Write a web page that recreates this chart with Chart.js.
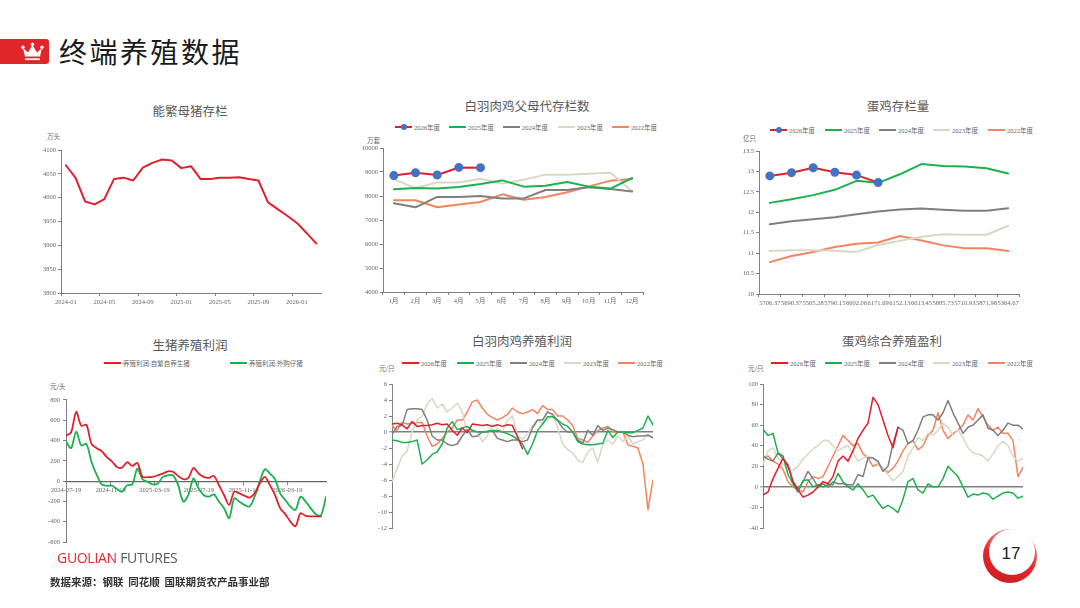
<!DOCTYPE html>
<html lang="zh-CN">
<head>
<meta charset="utf-8">
<title>终端养殖数据</title>
<script src="https://cdn.jsdelivr.net/npm/chart.js@4.4.1/dist/chart.umd.min.js"></script>
<style>
  html, body { margin: 0; padding: 0; background: #fff; }
  body { width: 1080px; height: 608px; position: relative; overflow: hidden;
         font-family: "Noto Sans CJK SC", "Noto Sans", sans-serif; }
  .abs { position: absolute; }
  .chart-box { position: absolute; }
  .ctitle { position: absolute; transform: translate(-50%, -50%); font-size: 12.5px; color: #595959; white-space: nowrap; }
  .unit { position: absolute; transform: translateY(-50%); font-family: "Noto Sans CJK SC", serif; font-size: 6.5px; color: #666; white-space: nowrap; }
  .leg-line { position: absolute; height: 2px; }
  .leg-dot { position: absolute; width: 6px; height: 6px; border-radius: 50%; background: #4472C4; }
  .leg-text { position: absolute; transform: translateY(-50%); font-family: "Liberation Serif", "Noto Sans CJK SC", serif; font-size: 6.5px; color: #666; white-space: nowrap; }
  #head-box { left: 0; top: 39px; width: 49px; height: 25px; background: #E0262B; border-radius: 0 3px 3px 0; }
  #head-title { left: 59px; top: 51px; transform: translateY(-50%); font-size: 28px; letter-spacing: 2.5px; color: #1a1a1a; }
  #brand { left: 57px; top: 557px; transform: translateY(-50%); font-family: "Open Sans", "Noto Sans", sans-serif; font-size: 14px; letter-spacing: -0.3px; }
  #source { left: 50px; top: 581px; transform: translateY(-50%); font-size: 10.5px; font-weight: bold; color: #333; white-space: nowrap; }
  #page-ring { left: 983px; top: 529px; width: 54px; height: 54px; border-radius: 50%; background: linear-gradient(200deg, #f7c5c5 0%, #e0262b 55%, #c81e23 100%); }
  #page-hole { left: 989px; top: 529px; width: 46px; height: 46px; border-radius: 50%; background: #fff; }
  #page-num { left: 1011px; top: 554px; transform: translate(-50%, -50%); font-family: "Liberation Sans", Arial, sans-serif; font-size: 17px; color: #222; }
</style>
</head>
<body>
<div id="head-box" class="abs"></div>
<svg class="abs" style="left:21px;top:42px" width="23" height="20" viewBox="0 0 23 20">
  <path d="M2 6 L7 10.5 L11.5 3 L16 10.5 L21 6 L19 14.5 L4 14.5 Z" fill="#fff"/>
  <circle cx="2" cy="5.2" r="1.7" fill="#fff"/>
  <circle cx="11.5" cy="2.2" r="1.7" fill="#fff"/>
  <circle cx="21" cy="5.2" r="1.7" fill="#fff"/>
  <rect x="4" y="16.3" width="15" height="1.8" fill="#fff"/>
</svg>
<div id="head-title" class="abs">终端养殖数据</div>

<div class="ctitle" style="left:190px;top:110px">能繁母猪存栏</div>
<div class="ctitle" style="left:527px;top:105px">白羽肉鸡父母代存栏数</div>
<div class="ctitle" style="left:898px;top:105px">蛋鸡存栏量</div>
<div class="ctitle" style="left:190px;top:344px">生猪养殖利润</div>
<div class="ctitle" style="left:522px;top:340px">白羽肉鸡养殖利润</div>
<div class="ctitle" style="left:892px;top:340px">蛋鸡综合养殖盈利</div>

<div class="unit" style="left:47px;top:136px">万头</div>
<div class="unit" style="left:367px;top:140px">万套</div>
<div class="unit" style="left:743px;top:138px">亿只</div>
<div class="unit" style="left:50px;top:386px">元/头</div>
<div class="unit" style="left:379px;top:368px">元/只</div>
<div class="unit" style="left:748px;top:368px">元/只</div>

<div class="chart-box" id="box-sow"><canvas id="c-sow"></canvas></div>
<div class="chart-box" id="box-broiler"><canvas id="c-broiler"></canvas></div>
<div class="chart-box" id="box-layer"><canvas id="c-layer"></canvas></div>
<div class="chart-box" id="box-hog"><canvas id="c-hog"></canvas></div>
<div class="chart-box" id="box-bprofit"><canvas id="c-bprofit"></canvas></div>
<div class="chart-box" id="box-eprofit"><canvas id="c-eprofit"></canvas></div>

<div id="brand" class="abs"><span style="color:#E8262D">GUOLIAN</span> <span style="color:#595959">FUTURES</span></div>
<div id="source" class="abs">数据来源：钢联&nbsp;&nbsp;同花顺&nbsp;&nbsp;国联期货农产品事业部</div>
<div id="page-ring" class="abs"></div>
<div id="page-hole" class="abs"></div>
<div id="page-num" class="abs">17</div>

<script>
// ---- data ----
// 能繁母猪存栏 (万头), monthly 2024-01 .. 2026-03
const sowMonths = ['2024-01','2024-02','2024-03','2024-04','2024-05','2024-06','2024-07','2024-08','2024-09',
  '2024-10','2024-11','2024-12','2025-01','2025-02','2025-03','2025-04','2025-05','2025-06','2025-07',
  '2025-08','2025-09','2025-10','2025-11','2025-12','2026-01','2026-02','2026-03'];
const sowStock = [4068,4042,3992,3986,3997,4039,4042,4036,4063,4073,4080,4078,4062,4066,4039,4039,4042,
  4042,4043,4039,4036,3990,3976,3962,3947,3926,3904];

// 白羽肉鸡父母代存栏数 (万套)
const monthNames = ['1月','2月','3月','4月','5月','6月','7月','8月','9月','10月','11月','12月'];
const broiler2026 = [8850,8970,8875,9190,9180];
const broiler2025 = [8280,8330,8310,8375,8500,8650,8390,8430,8585,8390,8310,8750];
const broiler2024 = [7700,7530,7960,7960,8000,7900,7900,8250,8250,8360,8290,8190];
const broiler2023 = [8700,8330,8560,8560,8720,8515,8680,8890,8890,8930,8970,8200];
const broiler2022 = [7820,7820,7530,7650,7750,8070,7840,7960,8160,8400,8640,8710];

// 蛋鸡存栏量 (亿只)
const layerAxisLabels = ['5706.37','5690.37','5505.28','5790.15','6602.06','6171.69','6152.13','6013.45',
  '5885.73','5710.93','5871.98','5364.67'];
const layer2026 = [12.89,12.97,13.09,12.98,12.91,12.73];
const layer2025 = [12.23,12.32,12.42,12.55,12.77,12.72,12.93,13.18,13.13,13.12,13.08,12.95];
const layer2024 = [11.71,11.78,11.83,11.88,11.95,12.02,12.07,12.09,12.06,12.04,12.04,12.10];
const layer2023 = [11.05,11.07,11.07,11.06,11.03,11.20,11.30,11.40,11.46,11.45,11.45,11.67];
const layer2022 = [10.78,10.93,11.03,11.15,11.23,11.26,11.42,11.31,11.19,11.12,11.12,11.05];

// 生猪养殖利润 (元/头), one reading every 14 days from 2024-07-19
const hogTickLabels = ['2024-07-19','2024-11-19','2025-03-19','2025-07-19','2025-11-19','2026-03-19'];
const hogTickDays = [0,123,243,365,488,608];
const hogSelfBred = [448,480,682,545,555,367,325,296,237,195,140,133,188,150,179,42,39,42,58,75,97,91,52,
  19,32,130,75,42,32,52,-39,-136,-234,-104,-120,-143,-162,-120,-23,42,-39,-136,-266,-325,-396,-445,-315,
  -341,-347,-347,-347];
const hogBought = [390,325,487,351,367,188,65,-32,-45,-45,-78,-104,-39,-32,123,19,-6,-32,-23,42,58,58,-39,
  -201,-136,26,-71,-136,-153,-130,-201,-266,-364,-169,-201,-234,-250,-153,-6,117,75,19,-120,-185,-250,
  -283,-153,-201,-266,-325,-338,-153];

// 年度对比的日期刻度 (every 30 days from 01-01); readings every 7 days
const seasonTickLabels = ['01-01','01-31','03-01','03-31','04-30','05-30','06-29','07-29','08-28','09-27','10-27','11-26','12-26'];
const seasonTickDays = [0,30,60,90,120,150,180,210,240,270,300,330,360];

// 白羽肉鸡养殖利润 (元/只)
const bp2026 = [1.0,1.1,0.9,0.4,1.3,0.7,0.8,0.8,0.9,1.1,0.9,1.0,0.2,-0.4,0.5,-0.1,1.0,0.9,0.8,0.9,0.7,0.9,
  0.7,0.9,0.8,-0.6,-2.1];
const bp2025 = [-1.0,-1.1,-1.3,-1.3,-1.2,-1.0,-4.0,-3.5,-2.8,-2.5,-1.5,0.5,1.3,0.3,0.5,0.7,0.2,0,0,0.1,0.2,
  0.2,0,-0.2,-0.5,-0.9,-1.5,-2.8,-1.5,0.2,1.0,1.9,1.9,1.5,1.0,0.7,0,-1.2,-1.5,-1.6,-1.6,-1.5,-1.4,0.2,-0.7,
  0,0,-0.1,-0.1,0.2,0.5,2.0,0.9];
const bp2024 = [-0.3,0.7,0.8,2.8,2.9,2.9,2.8,1.5,-0.5,-1.0,-1.0,-1.5,-1.7,-1.5,-0.5,0.3,-0.6,-0.5,0,0,0.2,
  -0.8,-1.0,-1.2,-1.0,-1.0,-1.2,-1.0,0.5,1.5,1.5,2.5,2.2,1.4,0.5,0,0,-1.0,-1.4,0.2,-0.4,0.8,0.2,0.5,0.3,0,0,
  -0.4,-0.6,-0.5,-0.5,-0.4,-0.7];
const bp2023 = [-6.2,-4.6,-3.0,-2.4,0,1.5,2.0,3.5,4.2,3.0,3.5,2.5,3.0,3.6,2.5,0,0.3,0,-1.2,-0.5,1.0,0.5,0,
  1.5,2.0,-0.5,-0.9,-0.2,0.8,1.5,1.0,1.5,2.3,0.5,-1.5,-2.2,-2.6,-3.5,-3.8,-2.5,-2.0,-3.8,-1.5,-1.0,-1.5,
  -0.5,-1.2,-0.5,-1.5,-1.2,-1.0,-0.3,-0.8];
const bp2022 = [0.8,0.2,1.2,1.0,1.1,1.2,1.2,-0.5,-1.8,-1.5,-0.8,0,0.5,1.5,1.5,2.5,3.8,4.0,3.0,2.2,1.8,1.5,
  1.8,2.2,3.0,2.5,2.3,2.5,2.8,2.3,3.3,2.8,2.8,2.0,2.0,1.5,0.8,-0.8,-1.0,-1.3,-0.5,0.2,0.5,0.7,0,0,0,-1.6,
  -1.8,-2.0,-4.0,-9.7,-6.0];

// 蛋鸡综合养殖盈利 (元/只)
const ep2026 = [-8,-5,8,18,28,20,5,-3,-10,-8,-5,0,5,3,10,25,30,25,35,47,55,62,87,80,65,50,38,58];
const ep2025 = [56,50,52,33,30,12,3,-5,6,7,0,2,0,2,2,13,5,0,-3,3,-3,-10,-8,-15,-21,-18,-21,-25,-12,5,8,-3,
  -6,3,0,0,8,20,15,10,0,-10,-7,-8,-6,-7,-12,-9,-6,-5,-6,-11,-9];
const ep2024 = [30,27,25,33,27,22,5,-2,5,15,8,0,3,0,5,3,3,2,2,12,10,28,28,25,15,20,42,58,55,42,45,55,68,70,
  70,65,72,84,72,62,52,58,60,65,70,57,55,50,55,62,60,60,56];
const ep2023 = [22,35,38,28,22,18,16,20,27,32,37,40,45,45,40,35,38,40,33,25,28,30,28,22,18,12,6,10,15,30,38,
  48,45,52,50,55,62,58,50,55,48,38,33,32,30,25,32,40,44,40,30,25,28];
const ep2022 = [28,30,25,22,17,5,0,-3,-5,5,10,8,10,20,30,40,50,45,40,42,32,28,20,22,18,14,18,25,35,42,45,36,
  40,50,55,72,55,47,52,55,60,70,65,76,68,60,55,58,52,52,45,10,19];

// ---- styles ----
const RED = '#E0212B', GREEN = '#1DB04F', GRAY = '#7F7F7F', BEIGE = '#D8D8C6', ORANGE = '#F4845F', BLUE = '#4472C4';
const AXIS = '#808080';
const TEXT = '#666';
const TICK_FONT = { family: '"Liberation Serif", "DejaVu Serif", serif', size: 6.5 };
const CLEAR = 'rgba(0,0,0,0)';

// put a canvas so that its chart area lands on plot = [left, top, right, bottom]; m = room [L, T, R, B]
function frame(id, plot, m) {
  const box = document.getElementById('box-' + id);
  const w = plot[2] - plot[0] + m[0] + m[2];
  const h = plot[3] - plot[1] + m[1] + m[3];
  box.style.left = (plot[0] - m[0]) + 'px';
  box.style.top = (plot[1] - m[1]) + 'px';
  box.style.width = w + 'px';
  box.style.height = h + 'px';
  const c = document.getElementById('c-' + id);
  c.style.width = w + 'px';
  c.style.height = h + 'px';
  c.width = w;
  c.height = h;
  return c;
}

function baseOptions(m, bottomPad) {
  return {
    responsive: false,
    animation: false,
    layout: { padding: { top: m[1], right: m[2], bottom: bottomPad || 0, left: 0 } },
    plugins: { legend: { display: false }, tooltip: { enabled: false } },
    elements: { line: { borderJoinStyle: 'round', borderCapStyle: 'round' } }
  };
}

function yAxis(m, min, max, step, grid) {
  return {
    min: min, max: max,
    afterFit: s => { s.width = m[0]; },
    ticks: { stepSize: step, font: TICK_FONT, color: TEXT, padding: 2, callback: v => String(v) },
    grid: Object.assign({ drawOnChartArea: false, tickLength: 3, color: AXIS }, grid || {}),
    border: { color: AXIS, width: 1 }
  };
}

function line(label, data, color, width, extra) {
  return Object.assign({
    label: label, data: data, borderColor: color, backgroundColor: color,
    borderWidth: width, pointRadius: 0, tension: 0, fill: false
  }, extra || {});
}

function addLegend(y, items) {
  items.forEach(item => {
    const [x, text, color, marker] = item;
    const ln = document.createElement('div');
    ln.className = 'leg-line';
    ln.style.left = x + 'px';
    ln.style.top = (y - 1) + 'px';
    ln.style.width = '17px';
    ln.style.background = color;
    document.body.appendChild(ln);
    if (marker) {
      const dot = document.createElement('div');
      dot.className = 'leg-dot';
      dot.style.left = (x + 5.5) + 'px';
      dot.style.top = (y - 3) + 'px';
      document.body.appendChild(dot);
    }
    const t = document.createElement('div');
    t.className = 'leg-text';
    t.textContent = text;
    t.style.left = (x + 19) + 'px';
    t.style.top = y + 'px';
    document.body.appendChild(t);
  });
}

const seasonDays = bp2025.map((v, i) => i * 7);
const hogDays = hogBought.map((v, i) => i * 14);

// ---- 能繁母猪存栏 ----
(function () {
  const m = [31, 10, 8, 16];
  const c = frame('sow', [61, 150, 321, 293], m);
  const opts = baseOptions(m);
  opts.scales = {
    x: {
      type: 'category', offset: true,
      afterFit: s => { s.height = m[3]; },
      ticks: { autoSkip: false, maxRotation: 0, minRotation: 0, font: TICK_FONT, color: TEXT, padding: 2,
        callback: (v, i) => (i % 4 === 0 ? sowMonths[i] : '') },
      grid: { offset: true, drawOnChartArea: false, tickLength: 3,
        color: ctx => (ctx.index !== undefined && ctx.index % 4 === 0 ? AXIS : CLEAR) },
      border: { color: AXIS, width: 1 }
    },
    y: yAxis(m, 3800, 4100, 50)
  };
  new Chart(c, { type: 'line', data: { labels: sowMonths, datasets: [line('能繁母猪存栏', sowStock, RED, 2)] }, options: opts });
})();

// ---- 白羽肉鸡父母代存栏数 ----
(function () {
  const m = [26, 6, 6, 14];
  const c = frame('broiler', [383, 148, 643, 292], m);
  const opts = baseOptions(m);
  opts.scales = {
    x: {
      type: 'category', offset: true,
      afterFit: s => { s.height = m[3]; },
      ticks: { autoSkip: false, maxRotation: 0, minRotation: 0, font: TICK_FONT, color: TEXT, padding: 2 },
      grid: { offset: true, drawOnChartArea: false, tickLength: 3, color: AXIS },
      border: { color: AXIS, width: 1 }
    },
    y: yAxis(m, 4000, 10000, 1000)
  };
  new Chart(c, {
    type: 'line',
    data: {
      labels: monthNames,
      datasets: [
        line('2026年度', broiler2026, RED, 2, { pointRadius: 3.5, pointBackgroundColor: BLUE, pointBorderColor: BLUE }),
        line('2025年度', broiler2025, GREEN, 2),
        line('2024年度', broiler2024, GRAY, 2),
        line('2023年度', broiler2023, BEIGE, 2),
        line('2022年度', broiler2022, ORANGE, 2)
      ]
    },
    options: opts
  });
  addLegend(127, [[395, '2026年度', RED, true], [449, '2025年度', GREEN], [503, '2024年度', GRAY],
    [558, '2023年度', BEIGE], [612, '2022年度', ORANGE]]);
})();

// ---- 蛋鸡存栏量 ----
(function () {
  const m = [22, 6, 14, 14];
  const c = frame('layer', [759, 151, 1019, 294], m);
  const opts = baseOptions(m);
  opts.scales = {
    x: {
      type: 'category', offset: true,
      afterFit: s => { s.height = m[3]; },
      ticks: { autoSkip: false, maxRotation: 0, minRotation: 0, font: TICK_FONT, color: TEXT, padding: 2 },
      grid: { offset: true, drawOnChartArea: false, tickLength: 3, color: AXIS },
      border: { color: AXIS, width: 1 }
    },
    y: yAxis(m, 10, 13.5, 0.5)
  };
  new Chart(c, {
    type: 'line',
    data: {
      labels: layerAxisLabels,
      datasets: [
        line('2026年度', layer2026, RED, 2, { pointRadius: 3.5, pointBackgroundColor: BLUE, pointBorderColor: BLUE }),
        line('2025年度', layer2025, GREEN, 2),
        line('2024年度', layer2024, GRAY, 2),
        line('2023年度', layer2023, BEIGE, 2),
        line('2022年度', layer2022, ORANGE, 2)
      ]
    },
    options: opts
  });
  addLegend(130, [[770, '2026年度', RED, true], [825, '2025年度', GREEN], [879, '2024年度', GRAY],
    [933, '2023年度', BEIGE], [988, '2022年度', ORANGE]]);
})();

// ---- 生猪养殖利润 ----
(function () {
  const m = [30, 6, 8, 6];
  const c = frame('hog', [66, 399, 326, 543], m);
  const opts = baseOptions(m, m[3]);
  opts.scales = {
    x: {
      type: 'linear', position: { y: 0 }, min: 0, max: hogDays[hogDays.length - 1],
      afterBuildTicks: s => { s.ticks = hogTickDays.map(v => ({ value: v })); },
      ticks: { autoSkip: false, maxRotation: 0, minRotation: 0, font: TICK_FONT, color: TEXT, padding: 2,
        callback: (v, i) => hogTickLabels[i] },
      grid: { drawOnChartArea: false, tickLength: 3, color: AXIS },
      border: { color: '#666', width: 1.2 }
    },
    y: yAxis(m, -600, 800, 200)
  };
  opts.scales.y.ticks.padding = 3;
  new Chart(c, {
    type: 'line',
    data: {
      labels: hogDays,
      datasets: [
        line('养殖利润:自繁自养生猪', hogSelfBred, RED, 1.8, { tension: 0.3 }),
        line('养殖利润:外购仔猪', hogBought, GREEN, 1.8, { tension: 0.3 })
      ]
    },
    options: opts
  });
  addLegend(363, [[104, '养殖利润:自繁自养生猪', RED], [230, '养殖利润:外购仔猪', GREEN]]);
})();

// ---- seasonal profit charts ----
function seasonChart(id, plot, min, max, step, series) {
  const m = [22, 6, 10, 14];
  const c = frame(id, plot, m);
  const opts = baseOptions(m);
  opts.scales = {
    x: {
      type: 'linear', min: 0, max: 364,
      afterFit: s => { s.height = m[3]; },
      afterBuildTicks: s => { s.ticks = seasonTickDays.map(v => ({ value: v })); },
      ticks: { autoSkip: false, maxRotation: 0, minRotation: 0, font: TICK_FONT, color: TEXT, padding: 4,
        callback: (v, i) => seasonTickLabels[i] },
      grid: { display: false },
      border: { display: false }
    },
    y: yAxis(m, min, max, step, {
      drawOnChartArea: true,
      color: ctx => (ctx.tick && ctx.tick.value === 0 ? '#808080' : CLEAR),
      lineWidth: ctx => (ctx.tick && ctx.tick.value === 0 ? 1.6 : 1),
      tickColor: AXIS, tickWidth: 1
    })
  };
  new Chart(c, {
    type: 'line',
    data: {
      labels: seasonDays,
      datasets: [
        line('2026年度', series[0], RED, 1.5),
        line('2025年度', series[1], GREEN, 1.5),
        line('2024年度', series[2], GRAY, 1.5),
        line('2023年度', series[3], BEIGE, 1.5),
        line('2022年度', series[4], ORANGE, 1.5)
      ]
    },
    options: opts
  });
}

seasonChart('bprofit', [392, 384, 653, 528], -12, 6, 2, [bp2026, bp2025, bp2024, bp2023, bp2022]);
addLegend(363, [[402, '2026年度', RED], [457, '2025年度', GREEN], [510, '2024年度', GRAY],
  [564, '2023年度', BEIGE], [618, '2022年度', ORANGE]]);

seasonChart('eprofit', [763, 384, 1023, 528], -40, 100, 20, [ep2026, ep2025, ep2024, ep2023, ep2022]);
addLegend(363, [[771, '2026年度', RED], [825, '2025年度', GREEN], [879, '2024年度', GRAY],
  [933, '2023年度', BEIGE], [988, '2022年度', ORANGE]]);
</script>
</body>
</html>
